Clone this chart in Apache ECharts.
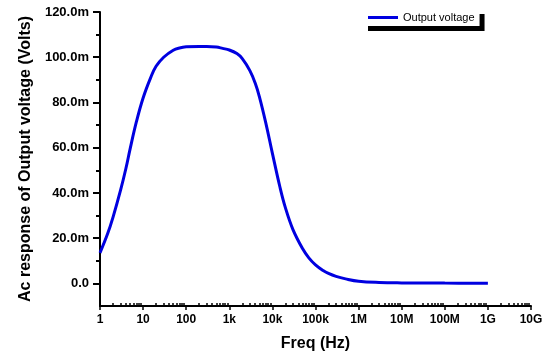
<!DOCTYPE html>
<html>
<head>
<meta charset="utf-8">
<script src="https://cdn.jsdelivr.net/npm/echarts/dist/echarts.min.js"></script>
<style>
  html, body { margin: 0; padding: 0; background: #fff; }
  #ac { width: 551px; height: 359px; }
</style>
</head>
<body>
<div id="ac"></div>
<script>
// frequency (Hz) and ac response (mV)
var freq = [1, 1.5, 2, 3, 4, 5, 7, 10, 15, 20, 30, 50, 70, 100, 200, 300, 500, 700,
            1e3, 1.5e3, 2e3, 3e3, 4e3, 5e3, 7e3, 1e4, 1.5e4, 2e4, 3e4, 5e4, 7e4,
            1e5, 1.5e5, 2e5, 3e5, 5e5, 1e6, 3e6, 1e7, 1e8, 1e9];
var volt = [13.5, 21.9, 29.2, 41.2, 50.9, 59.5, 71.5, 82, 91, 96, 100, 103.1, 104.1, 104.6, 104.8, 104.8, 104.5, 103.9,
            103.2, 101.6, 99.4, 94.1, 88.5, 82.5, 71.1, 57.5, 42.5, 33.5, 23.8, 15.4, 11.3,
            8.2, 5.7, 4.4, 3.1, 2, 0.95, 0.4, 0.22, 0.12, 0.08];

var xMajor = [1, 1e1, 1e2, 1e3, 1e4, 1e5, 1e6, 1e7, 1e8, 1e9, 1e10];
var xLabels = ['1', '10', '100', '1k', '10k', '100k', '1M', '10M', '100M', '1G', '10G'];
var xMinor = [];
for (var d = 0; d < 10; d++) {
  for (var k = 2; k <= 9; k++) xMinor.push(k * Math.pow(10, d));
}
var yMajor = [0, 20, 40, 60, 80, 100, 120];
var yMinor = [10, 30, 50, 70, 90, 110];

var font = 'Liberation Sans, Arial, sans-serif';
var pts = freq.map(function (f, i) { return [f, volt[i]]; });

var chart = echarts.init(document.getElementById('ac'));
var option = {
  backgroundColor: '#fff',
  animation: false,
  grid: { left: 100, right: 20, top: 12, bottom: 53 },
  legend: {
    left: 363, top: 9,
    padding: [3, 5],
    backgroundColor: '#fff',
    shadowColor: '#000', shadowBlur: 0, shadowOffsetX: 5, shadowOffsetY: 5,
    icon: 'rect', itemWidth: 30, itemHeight: 3,
    textStyle: { fontFamily: font, fontSize: 11, color: '#000' },
    data: ['Output voltage']
  },
  xAxis: [
    {
      type: 'log', logBase: 10, min: 1, max: 1e10,
      name: 'Freq (Hz)', nameLocation: 'middle', nameGap: 30,
      nameTextStyle: { fontFamily: font, fontSize: 16, fontWeight: 'bold', color: '#000' },
      axisLine: { onZero: false, lineStyle: { color: '#000', width: 2 } },
      axisTick: { customValues: xMajor, length: 4, lineStyle: { color: '#000', width: 1.5 } },
      axisLabel: {
        customValues: xMajor, margin: 8,
        fontFamily: font, fontSize: 12, fontWeight: 'bold', color: '#000',
        formatter: function (v) { return xLabels[Math.round(Math.log10(v))]; }
      },
      splitLine: { show: false }
    },
    {
      type: 'log', logBase: 10, min: 1, max: 1e10, position: 'bottom',
      axisLine: { show: false, onZero: false },
      axisTick: { customValues: xMinor, inside: true, length: 3, lineStyle: { color: '#000', width: 1.5 } },
      axisLabel: { show: false },
      splitLine: { show: false }
    }
  ],
  yAxis: [
    {
      type: 'value', min: -10, max: 120,
      name: 'Ac response of Output voltage (Volts)', nameLocation: 'middle', nameGap: 64,
      nameTextStyle: { fontFamily: font, fontSize: 16, fontWeight: 'bold', color: '#000' },
      axisLine: { show: true, onZero: false, lineStyle: { color: '#000', width: 2 } },
      axisTick: { show: true, customValues: yMajor, length: 7, lineStyle: { color: '#000', width: 2 } },
      axisLabel: {
        customValues: yMajor, margin: 11,
        fontFamily: font, fontSize: 13, fontWeight: 'bold', color: '#000',
        formatter: function (v) { return v === 0 ? '0.0' : v.toFixed(1) + 'm'; }
      },
      splitLine: { show: false }
    },
    {
      type: 'value', min: -10, max: 120, position: 'left',
      axisLine: { show: false, onZero: false },
      axisTick: { show: true, customValues: yMinor, length: 4, lineStyle: { color: '#000', width: 2 } },
      axisLabel: { show: false },
      splitLine: { show: false }
    }
  ],
  series: [
    {
      name: 'Output voltage',
      type: 'line',
      smooth: 0.4,
      showSymbol: false,
      lineStyle: { color: '#0000e0', width: 3 },
      itemStyle: { color: '#0000e0' },
      data: pts
    }
  ]
};
chart.setOption(option);
</script>
</body>
</html>
